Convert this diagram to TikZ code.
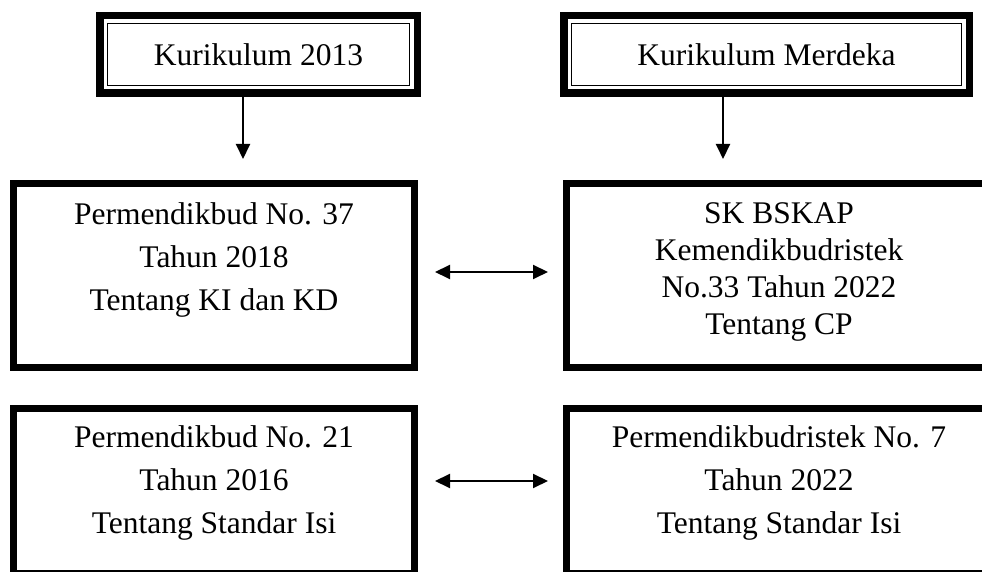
\documentclass[tikz,border=0pt]{standalone}
\usepackage{fontspec}
\setmainfont{Liberation Serif}
\usetikzlibrary{arrows.meta}

\tikzset{
  box/.style={draw,line width=7pt,inner sep=0pt,align=center,font=\fontsize{31.5}{43}\selectfont},
  topbox/.style={box,line width=7.5pt,minimum height=77.5pt},
  down/.style={line width=2pt,-{Triangle[length=15pt,width=14pt]}},
  both/.style={line width=2pt,{Triangle[length=15pt,width=14pt]}-{Triangle[length=15pt,width=14pt]}}
}

\begin{document}
\begin{tikzpicture}[x=1pt,y=1pt]
    \useasboundingbox (0,0) rectangle (982,572);
    \clip (0,0) rectangle (982,572);
    % Top row
    \node[topbox,minimum width=317.5pt] (k13) at (258.5,517.5) {Kurikulum 2013};
    \node[topbox,minimum width=405.5pt] (km) at (766.5,517.5) {Kurikulum Merdeka};
    \draw[line width=1.5pt] ([shift={(11.5pt,-11.5pt)}]k13.north west) rectangle ([shift={(-11.5pt,11.5pt)}]k13.south east);
    \draw[line width=1.5pt] ([shift={(11.5pt,-11.5pt)}]km.north west) rectangle ([shift={(-11.5pt,11.5pt)}]km.south east);
    % Middle row
    \node[box,minimum width=401pt,minimum height=184pt,text depth=38pt] (kd) at (214,296.5)
        {Permendikbud No. 37\\Tahun 2018\\Tentang KI dan KD};
    \node[box,minimum width=425pt,minimum height=184pt,text depth=13pt,font=\fontsize{31.5}{37}\selectfont] (cp) at (779,296.5)
        {SK BSKAP\\Kemendikbudristek\\No.33 Tahun 2022\\Tentang CP};
    % Bottom row
    \node[box,minimum width=401pt,minimum height=165pt,text depth=23pt] (si1) at (214,81)
        {Permendikbud No. 21\\Tahun 2016\\Tentang Standar Isi};
    \node[box,minimum width=425pt,minimum height=165pt,text depth=23pt] (si2) at (779,81)
        {Permendikbudristek No. 7\\Tahun 2022\\Tentang Standar Isi};
    % Arrows
    \coordinate (t1) at (243,413);
    \coordinate (t2) at (723,413);
    \draw[down] (k13.south -| t1) -- (t1);
    \draw[down] (km.south -| t2) -- (t2);
    \draw[both,shorten <=17pt,shorten >=15pt] ([yshift=3.5pt]kd.east) -- ([yshift=3.5pt]cp.west);
    \draw[both,shorten <=17pt,shorten >=15pt] ([yshift=10pt]si1.east) -- ([yshift=10pt]si2.west);
\end{tikzpicture}
\end{document}
